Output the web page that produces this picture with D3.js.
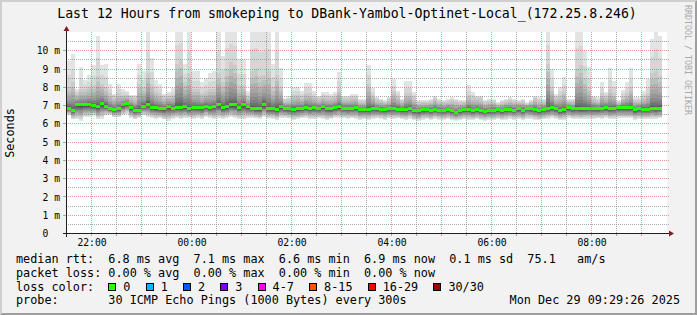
<!DOCTYPE html>
<html>
<head>
<meta charset="utf-8">
<script src="https://cdn.jsdelivr.net/npm/d3@7"></script>
<style>
  body { margin: 0; background: #f2f2f2; }
  svg { display: block; font-family: "DejaVu Sans Mono", monospace; }
  text { white-space: pre; }
</style>
</head>
<body>
<div id="chart"></div>
<script>
// ---- data ----
const title = "Last 12 Hours from smokeping to DBank-Yambol-Optinet-Local_(172.25.8.246)";
const endTime = new Date(2025, 11, 29, 9, 29, 26);
const firstBin = new Date(2025, 11, 28, 21, 30, 0);
const stepSec = 300;

// median rtt per 5 min bin (ms)
const medianMs = [
  6.86, 6.75, 7.04, 7.04, 7.04, 7.06, 7.00, 6.93, 7.12, 6.97,
  6.82, 6.79, 6.82, 7.04, 7.11, 6.89, 6.75, 6.75, 6.97, 7.08,
  6.91, 6.88, 6.82, 6.82, 6.93, 6.86, 6.91, 6.91, 6.93, 6.82,
  6.91, 6.89, 6.89, 6.97, 6.89, 6.95, 7.04, 6.89, 6.93, 7.04,
  7.04, 6.89, 7.04, 6.93, 6.86, 6.82, 6.82, 7.04, 6.82, 6.82,
  6.79, 6.93, 6.84, 6.82, 6.79, 6.82, 6.84, 6.91, 6.84, 6.89,
  6.84, 6.93, 6.84, 6.82, 6.89, 6.93, 6.86, 6.86, 6.86, 6.89,
  6.79, 6.79, 6.80, 6.86, 6.82, 6.79, 6.80, 6.82, 6.84, 6.80,
  6.77, 6.79, 6.84, 6.71, 6.71, 6.77, 6.77, 6.75, 6.80, 6.75,
  6.75, 6.79, 6.71, 6.64, 6.71, 6.77, 6.79, 6.73, 6.77, 6.71,
  6.69, 6.73, 6.75, 6.77, 6.71, 6.79, 6.80, 6.75, 6.82, 6.75,
  6.86, 6.84, 6.79, 6.71, 6.79, 6.82, 6.89, 6.82, 6.73, 6.77,
  6.89, 6.82, 6.84, 6.82, 6.82, 6.84, 6.84, 6.82, 6.86, 6.89,
  6.82, 6.84, 6.88, 6.88, 6.88, 6.88, 6.77, 6.82, 6.80, 6.80,
  6.86, 6.82, 6.86
];
// lowest ping per bin (ms)
const minMs = [
  6.46, 6.24, 6.24, 6.18, 6.36, 6.36, 6.41, 6.27, 6.27, 6.46,
  6.50, 6.36, 6.36, 6.46, 6.55, 6.31, 6.24, 6.31, 6.46, 6.36,
  6.31, 6.27, 6.31, 6.24, 6.18, 6.27, 6.31, 6.24, 6.31, 6.31,
  6.27, 6.31, 6.24, 6.36, 6.31, 6.27, 6.30, 6.25, 6.30, 6.35,
  6.30, 6.28, 6.25, 6.30, 6.33, 6.30, 6.25, 6.35, 6.30, 6.28,
  6.20, 6.30, 6.32, 6.30, 6.22, 6.25, 6.30, 6.32, 6.28, 6.25,
  6.30, 6.28, 6.22, 6.25, 6.30, 6.33, 6.30, 6.26, 6.30, 6.28,
  6.20, 6.25, 6.20, 6.25, 6.30, 6.28, 6.22, 6.30, 6.26, 6.30,
  6.25, 6.20, 6.28, 6.20, 6.15, 6.22, 6.25, 6.20, 6.26, 6.22,
  6.20, 6.25, 6.20, 6.18, 6.20, 6.25, 6.22, 6.20, 6.25, 6.20,
  6.18, 6.22, 6.20, 6.25, 6.20, 6.22, 6.26, 6.22, 6.25, 6.20,
  6.28, 6.25, 6.22, 6.20, 6.25, 6.28, 6.30, 6.26, 6.20, 6.22,
  6.30, 6.26, 6.28, 6.25, 6.27, 6.28, 6.25, 6.30, 6.28, 6.30,
  6.26, 6.28, 6.30, 6.30, 6.30, 6.30, 6.22, 6.26, 6.25, 6.25,
  6.28, 6.26, 6.30
];
// highest ping per bin (ms), above 11 is cut by the graph
const maxMs = [
  9.46, 9.80, 7.90, 9.10, 8.40, 8.70, 9.20, 10.80, 9.20, 9.25,
  8.20, 7.65, 8.20, 7.90, 7.80, 7.60, 7.60, 9.25, 8.90, 11.6,
  9.60, 8.40, 8.20, 7.65, 7.75, 7.95, 11.6, 11.6, 9.30, 11.6,
  8.90, 8.90, 8.30, 8.50, 8.80, 8.92, 11.6, 9.74, 11.6, 11.6,
  11.6, 9.55, 9.55, 7.82, 11.6, 11.6, 11.6, 11.6, 11.6, 9.30,
  11.6, 9.04, 7.40, 7.50, 8.04, 8.04, 7.82, 8.24, 8.24, 7.82,
  7.55, 7.77, 7.73, 7.64, 7.77, 8.83, 7.55, 7.55, 7.64, 7.64,
  7.37, 7.37, 9.23, 7.95, 7.46, 7.37, 7.28, 7.46, 8.46, 7.82,
  7.37, 8.32, 8.32, 7.73, 7.28, 7.28, 7.28, 7.37, 7.55, 7.37,
  7.28, 7.37, 7.46, 7.37, 7.28, 7.28, 8.10, 7.73, 7.55, 7.55,
  7.28, 7.37, 7.37, 7.19, 7.28, 7.37, 7.46, 7.37, 7.28, 7.37,
  7.19, 7.28, 7.55, 7.46, 7.37, 11.6, 9.00, 7.64, 8.00, 8.55,
  7.37, 7.37, 11.6, 11.6, 10.00, 9.10, 7.55, 7.46, 8.28, 7.77,
  9.04, 8.37, 7.28, 7.86, 8.28, 9.04, 7.46, 7.46, 7.82, 8.46,
  10.65, 11.6, 10.83
];
// top of the denser (mid grey) smoke per bin (ms)
const smokeMs = [
  8.0, 8.3, 7.7, 7.9, 7.9, 8.0, 8.1, 8.6, 8.2, 8.0,
  7.7, 7.5, 7.7, 7.6, 7.6, 7.5, 7.45, 8.2, 8.0, 8.8,
  8.2, 7.8, 7.7, 7.5, 7.55, 7.6, 9.3, 9.5, 8.3, 8.8,
  7.9, 7.9, 7.7, 7.8, 7.9, 7.9, 8.8, 8.3, 9.0, 9.4,
  9.2, 8.1, 8.1, 7.5, 8.9, 9.0, 8.6, 8.7, 8.9, 8.0,
  8.7, 8.0, 7.3, 7.35, 7.6, 7.6, 7.5, 7.7, 7.7, 7.5,
  7.4, 7.5, 7.5, 7.45, 7.5, 7.9, 7.4, 7.4, 7.45, 7.45,
  7.25, 7.25, 8.2, 7.6, 7.35, 7.3, 7.2, 7.35, 7.8, 7.55,
  7.3, 7.7, 7.7, 7.45, 7.2, 7.2, 7.2, 7.25, 7.4, 7.25,
  7.2, 7.25, 7.3, 7.25, 7.2, 7.2, 7.6, 7.45, 7.4, 7.4,
  7.2, 7.25, 7.25, 7.1, 7.2, 7.25, 7.3, 7.25, 7.2, 7.25,
  7.1, 7.2, 7.4, 7.3, 7.25, 9.3, 8.0, 7.45, 7.6, 7.8,
  7.25, 7.25, 9.0, 9.2, 8.5, 8.0, 7.4, 7.3, 7.7, 7.5,
  7.9, 7.7, 7.2, 7.5, 7.7, 8.0, 7.3, 7.3, 7.5, 7.7,
  8.8, 8.9, 8.6
];

const yTickValues = [0, 1, 2, 3, 4, 5, 6, 7, 8, 9, 10];
const rttStats = [["6.8 ms", "avg"], ["7.1 ms", "max"], ["6.6 ms", "min"], ["6.9 ms", "now"], ["0.1 ms", "sd"]];
const amPerSec = "75.1";
const lossStats = [["0.00 %", "avg"], ["0.00 %", "max"], ["0.00 %", "min"], ["0.00 %", "now"]];
const lossLabels = ["0", "1", "2", "3", "4-7", "8-15", "16-29", "30/30"];
const lossColors = ["#26ff00", "#00b8ff", "#0059ff", "#7e00ff", "#ff00ff", "#ff5500", "#ff0000", "#a10000"];
const probeText = "30 ICMP Echo Pings (1000 Bytes) every 300s";
const stampText = "Mon Dec 29 09:29:26 2025";

// ---- layout ----
const W = 697, H = 315;
const PLOT = { left: 66, right: 666, top: 32.5, bottom: 233.5 };
const COL = {
  back: "#f2f2f2", shadeA: "#cfcfcf", shadeB: "#9e9e9e",
  grid: "rgba(143,143,143,0.75)", mgrid: "rgba(222,79,79,0.6)",
  arrow: "#801f1f", axis: "#1f1f1f"
};

const svg = d3.select("#chart").append("svg").attr("width", W).attr("height", H);

svg.append("rect").attr("width", W).attr("height", H).attr("fill", COL.back);
// 3d border like rrdtool
svg.append("polygon").attr("points", `0,${H} 2,${H - 2} 2,2 ${W - 2},2 ${W},0 0,0`).attr("fill", COL.shadeA);
svg.append("polygon").attr("points", `2,${H - 2} ${W - 2},${H - 2} ${W - 2},2 ${W},0 ${W},${H} 0,${H}`).attr("fill", COL.shadeB);

const x = d3.scaleTime().domain([d3.timeHour.offset(endTime, -12), endTime]).range([PLOT.left, PLOT.right]);
const y = d3.scaleLinear().domain([0, 11]).range([PLOT.bottom, PLOT.top]);
const px = v => Math.floor(v) + 0.5;

// canvas
svg.append("rect").attr("x", 66).attr("y", 32).attr("width", 601).attr("height", 201).attr("fill", "#fff");
svg.append("clipPath").attr("id", "clip").append("rect")
  .attr("x", 66).attr("y", 32).attr("width", 601).attr("height", 201);

const bins = medianMs.map((m, k) => ({
  t0: d3.timeSecond.offset(firstBin, k * stepSec),
  t1: d3.timeSecond.offset(firstBin, (k + 1) * stepSec),
  med: m, lo: minMs[k], hi: maxMs[k], up: Math.min(smokeMs[k], maxMs[k])
}));

// smoke: 15 nested ping pairs, outer ones lightest (smokeping grey ramp)
const half = 15;
const layers = d3.range(1, half + 1).map(i => {
  const g = Math.floor(190 / half * (half - i)) + 50;
  return { i, color: d3.rgb(g, g, g).formatHex() };
});
function pairBounds(b, i) {
  const f = (half + 1 - i) / half;
  const lower = b.med - (b.med - b.lo) * Math.pow(f, 1.4);
  let upper;
  if (i === 1) upper = b.hi;
  else if (i === 2) upper = b.up + (b.hi - b.up) * 0.45;
  else upper = b.med + (b.up - b.med) * Math.pow((half + 1 - i) / (half - 2), 2.5);
  return [lower, upper];
}

const plot = svg.append("g").attr("clip-path", "url(#clip)");
layers.forEach(L => {
  plot.append("g").selectAll("rect").data(bins).join("rect")
    .attr("shape-rendering", "crispEdges")
    .attr("fill", L.color)
    .attr("x", d => x(d.t0))
    .attr("width", d => x(d.t1) - x(d.t0))
    .attr("y", d => y(pairBounds(d, L.i)[1]))
    .attr("height", d => y(pairBounds(d, L.i)[0]) - y(pairBounds(d, L.i)[1]));
});

// median (0 loss -> green)
plot.append("g").selectAll("rect").data(bins).join("rect")
  .attr("shape-rendering", "crispEdges")
  .attr("fill", lossColors[0])
  .attr("x", d => x(d.t0))
  .attr("width", d => x(d.t1) - x(d.t0))
  .attr("y", d => y(d.med) - 1.5)
  .attr("height", 3);

// grid on top
const grid = svg.append("g").attr("stroke-dasharray", "1,1").attr("fill", "none");
y.ticks(22).filter(v => v > 0 && v < 11).forEach(v => {
  const major = Number.isInteger(v);
  grid.append("line")
    .attr("x1", 66).attr("x2", 669)
    .attr("y1", px(y(v))).attr("y2", px(y(v)))
    .attr("stroke", major ? COL.mgrid : COL.grid);
  if (major) svg.append("line").attr("x1", 63).attr("x2", 66)
    .attr("y1", px(y(v))).attr("y2", px(y(v))).attr("stroke", COL.grid);
});
d3.timeMinute.every(30).range(x.domain()[0], x.domain()[1]).forEach(t => {
  const major = t.getMinutes() === 0;
  const xx = px(x(t));
  grid.append("line")
    .attr("x1", xx).attr("x2", xx).attr("y1", 32).attr("y2", 233)
    .attr("stroke", major ? COL.mgrid : COL.grid);
  svg.append("line").attr("x1", xx).attr("x2", xx).attr("y1", 234).attr("y2", 236)
    .attr("stroke", major ? COL.mgrid : COL.grid);
});

// axes lines + arrows
svg.append("line").attr("x1", 63).attr("x2", 670).attr("y1", px(PLOT.bottom)).attr("y2", px(PLOT.bottom))
  .attr("stroke", COL.axis);
svg.append("line").attr("x1", px(PLOT.left)).attr("x2", px(PLOT.left)).attr("y1", 237).attr("y2", 30)
  .attr("stroke", COL.axis);
svg.append("polygon").attr("fill", COL.arrow)
  .attr("points", `669,${px(PLOT.bottom) - 3} 674,${px(PLOT.bottom)} 669,${px(PLOT.bottom) + 3}`);
svg.append("polygon").attr("fill", COL.arrow)
  .attr("points", `${px(PLOT.left) - 3},31 ${px(PLOT.left)},26 ${px(PLOT.left) + 3},31`);

// tick labels
const xAxis = svg.append("g").attr("transform", `translate(0,${PLOT.bottom})`)
  .call(d3.axisBottom(x).ticks(d3.timeHour.every(2)).tickFormat(d3.timeFormat("%H:%M")).tickSize(0).tickPadding(5.6));
const yAxis = svg.append("g").attr("transform", `translate(${PLOT.left},0)`)
  .call(d3.axisLeft(y).tickValues(yTickValues).tickFormat(v => v === 0 ? "0  " : v + " m").tickSize(0).tickPadding(6));
[xAxis, yAxis].forEach(a => {
  a.select(".domain").remove();
  a.selectAll("text").attr("font-family", "DejaVu Sans Mono").attr("font-size", "9.7px").attr("fill", "#000");
});

// title & labels
svg.append("text").attr("x", 347).attr("y", 18.3).attr("text-anchor", "middle")
  .attr("font-size", "13.2px").text(title);
svg.append("text").attr("transform", "translate(14,133) rotate(-90)").attr("text-anchor", "middle")
  .attr("font-size", "11.8px").text("Seconds");
svg.append("text").attr("transform", "translate(685,5) rotate(90)")
  .attr("font-size", "8.3px").attr("fill", "#a8a8a8").text("RRDTOOL / TOBI OETIKER");

// legend
const LX = 16, LFS = "11.8px";
const rttLine = "median rtt:  " + rttStats.map(d => d[0] + " " + d[1]).join("  ") + "  " + amPerSec + "   am/s";
const lossLine = "packet loss: " + lossStats.map(d => d[0] + " " + d[1]).join("  ");
const t1 = svg.append("text").attr("x", LX).attr("y", 263).attr("font-size", LFS).text(rttLine);
svg.append("text").attr("x", LX).attr("y", 277).attr("font-size", LFS).text(lossLine);
svg.append("text").attr("x", LX).attr("y", 290.5).attr("font-size", LFS).text("loss color:");
svg.append("text").attr("x", LX).attr("y", 304).attr("font-size", LFS).text("probe:       " + probeText);
svg.append("text").attr("x", 680).attr("y", 304).attr("text-anchor", "end").attr("font-size", LFS).text(stampText);

const cw = t1.node().getComputedTextLength() / rttLine.length;
let bx = LX + 13 * cw;
lossLabels.forEach((lab, i) => {
  svg.append("rect").attr("x", Math.round(bx) + 0.5).attr("y", 283.5).attr("width", 7).attr("height", 7)
    .attr("fill", lossColors[i]).attr("stroke", "#000");
  const tx = svg.append("text").attr("x", bx + 15).attr("y", 290.5).attr("font-size", LFS).text(lab);
  bx = bx + 15 + tx.node().getComputedTextLength() + 15.2;
});
</script>
</body>
</html>
